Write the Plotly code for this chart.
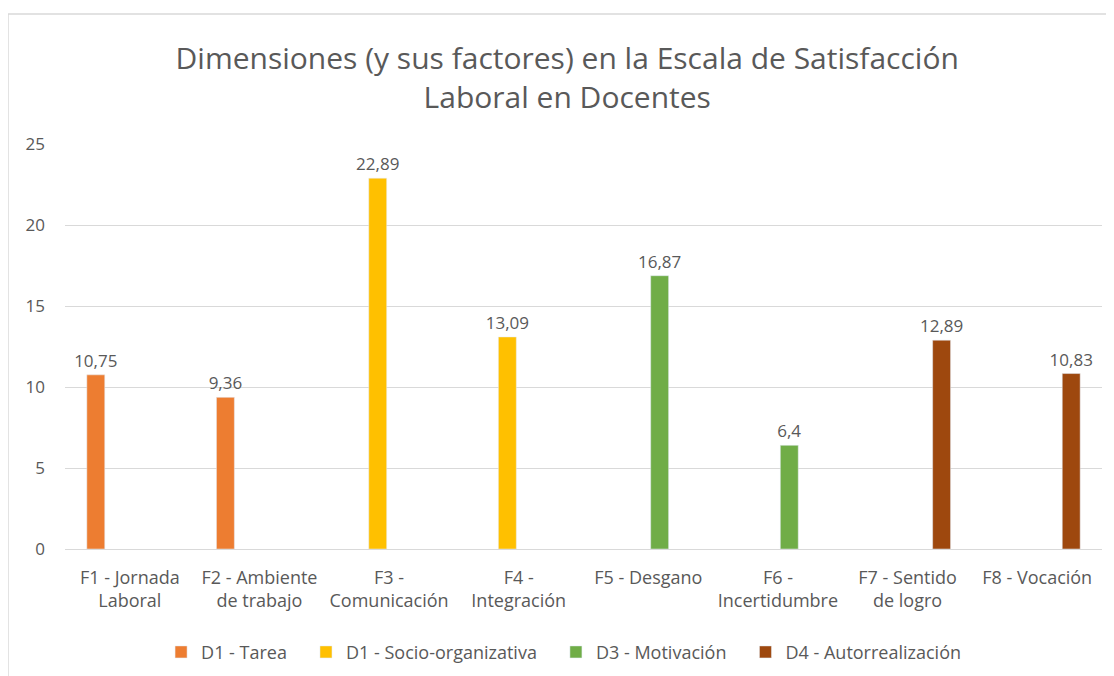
import plotly.graph_objects as go

# category labels (wrapped like the original)
categories = [
    "F1 - Jornada<br>Laboral",
    "F2 - Ambiente<br>de trabajo",
    "F3 -<br>Comunicación",
    "F4 -<br>Integración",
    "F5 - Desgano",
    "F6 -<br>Incertidumbre",
    "F7 - Sentido<br>de logro",
    "F8 - Vocación",
]

# one series per dimension, None where the factor belongs to another one
d1_tarea = [10.75, 9.36, None, None, None, None, None, None]
d1_socio = [None, None, 22.89, 13.09, None, None, None, None]
d3_motivacion = [None, None, None, None, 16.87, 6.4, None, None]
d4_autorreal = [None, None, None, None, None, None, 12.89, 10.83]

series_names = ["D1 - Tarea", "D1 - Socio-organizativa", "D3 - Motivación", "D4 - Autorrealización"]
series_values = [d1_tarea, d1_socio, d3_motivacion, d4_autorreal]
colors = ["#ED7D31", "#FFC000", "#70AD47", "#9E480E"]

y_ticks = [0, 5, 10, 15, 20, 25]

TEXT = "#595959"
FONT = "Open Sans"
NBSP = "\u00a0"


def fmt(v):
    # spanish decimal comma
    if v is None:
        return ""
    return f"{v:g}".replace(".", ",")


fig = go.Figure()

for name, vals, col in zip(series_names, series_values, colors):
    fig.add_trace(go.Bar(
        x=categories,
        y=vals,
        name=name + NBSP * 3,  # a bit more room between legend entries
        marker_color=col,
        text=[fmt(v) for v in vals],
        textposition="outside",
        constraintext="none",
        textfont=dict(family=FONT, size=17, color=TEXT),
        cliponaxis=False,
    ))

# the page body has an 8px margin, so the figure sits 8px right/down
fig.update_layout(
    width=1114,
    height=676,
    barmode="group",
    bargap=0.30,
    bargroupgap=0.21,
    plot_bgcolor="white",
    paper_bgcolor="white",
    font=dict(family=FONT, size=18, color=TEXT),
    margin=dict(l=57, r=20, t=136, b=135, autoexpand=False),
    title=dict(
        text="Dimensiones (y sus factores) en la Escala de Satisfacción<br>Laboral en Docentes",
        x=0.502,
        xanchor="center",
        xref="container",
        y=0.91,
        yanchor="top",
        yref="container",
        font=dict(family=FONT, size=30, color=TEXT),
    ),
    legend=dict(
        orientation="h",
        x=0.505,
        xanchor="center",
        xref="container",
        y=0.047,
        yanchor="middle",
        yref="container",
        font=dict(family=FONT, size=18, color=TEXT),
        itemwidth=30,
    ),
    showlegend=True,
)

fig.update_yaxes(
    range=[0, 25],
    tickvals=y_ticks,
    showgrid=True,
    gridcolor="#D9D9D9",
    gridwidth=1,
    zeroline=False,
    showline=False,
    ticks="",
    automargin=False,
    ticklabelstandoff=19,
    tickfont=dict(family=FONT, size=17, color=TEXT),
)

fig.update_xaxes(
    showline=True,
    linecolor="#D9D9D9",
    linewidth=1,
    ticks="",
    automargin=False,
    ticklabelstandoff=12,
    tickfont=dict(family=FONT, size=18, color=TEXT),
    tickangle=0,
)

# outer chart frame (cut off on the right and bottom in the original)
fig.add_shape(
    type="rect",
    xref="paper", yref="paper",
    x0=-0.055, x1=1.03, y0=-0.35, y1=1.321,
    line=dict(color="#D9D9D9", width=1.5),
    fillcolor="rgba(0,0,0,0)",
    layer="below",
)

fig.write_html("out.html")
